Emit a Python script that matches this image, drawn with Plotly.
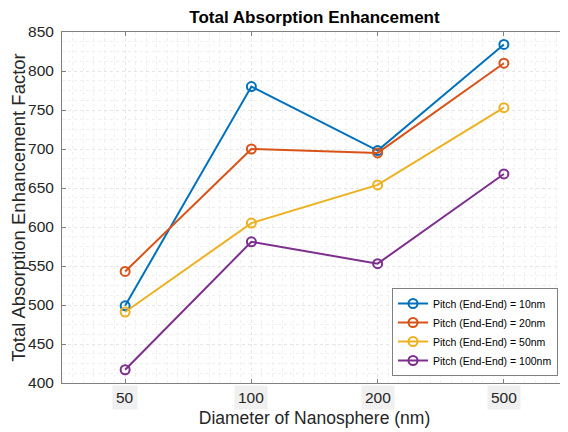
import plotly.graph_objects as go

categories = ["50", "100", "200", "500"]
tick_labels = ["50", "100", "200", "500"]
series_names = ["Pitch (End-End) = 10nm", "Pitch (End-End) = 20nm",
                "Pitch (End-End) = 50nm", "Pitch (End-End) = 100nm"]
pitch_10 = [499, 780, 698, 834]
pitch_20 = [543, 700, 695, 810]
pitch_50 = [491, 605, 654, 753]
pitch_100 = [417, 581, 553, 668]
colors = ["#0072BD", "#D95319", "#EDB120", "#7E2F8E"]

# page body has an 8px default margin, so the figure is drawn 8px smaller
W, H = 560, 424
L, R, T, B = 54, 1, 24, 49
pw, ph = W - L - R, H - T - B

fig = go.Figure()
for name, vals, c in zip(series_names, [pitch_10, pitch_20, pitch_50, pitch_100], colors):
    fig.add_trace(go.Scatter(
        x=list(range(len(categories))), y=vals, name=name, mode="lines+markers",
        line=dict(color=c, width=2),
        marker=dict(symbol="circle-open", size=9, color=c, line=dict(width=2, color=c)),
    ))

for i, lab in enumerate(tick_labels):
    fig.add_annotation(x=i, y=0, xref="x", yref="paper", text=lab, showarrow=False,
                       yanchor="top", yshift=-2, bgcolor="#f0f0f0", borderpad=3,
                       font=dict(family="Arial", size=15.5, color="#262626"))

axis_common = dict(showline=True, linecolor="#808080", linewidth=1, mirror="ticks",
                   ticks="inside", ticklen=4, tickcolor="#808080",
                   showgrid=True, gridcolor="#e6e6e6", griddash="dot", gridwidth=1,
                   zeroline=False)

fig.update_layout(
    width=W, height=H,
    margin=dict(l=L, r=R, t=T, b=B),
    paper_bgcolor="white", plot_bgcolor="white",
    font=dict(family="Arial", color="#262626"),
    title=dict(text="<b>Total Absorption Enhancement</b>", x=(L + pw / 2) / W, xanchor="center",
               y=1 - 9 / H, yanchor="middle", font=dict(family="Arial", size=17, color="black")),
    xaxis=dict(range=[-0.5, 3.5], tickvals=list(range(len(categories))), showticklabels=False,
               title=dict(text="Diameter of Nanosphere (nm)", standoff=28,
                          font=dict(family="Arial", size=17.5, color="#262626")),
               minor=dict(dtick=1 / 12, tick0=0, showgrid=True, gridcolor="#f0f0f0", griddash="dot"),
               **axis_common),
    yaxis=dict(range=[400, 850], dtick=50, tickfont=dict(family="Arial", size=15.5, color="#262626"),
               ticklabelstandoff=4,
               title=dict(text="Total Absorption Enhancement Factor", standoff=1,
                          font=dict(family="Arial", size=18.5, color="#262626")),
               minor=dict(dtick=12.5, showgrid=True, gridcolor="#f0f0f0", griddash="dot"),
               **axis_common),
    legend=dict(x=(558 - 62) / 505, y=(383 - 376) / 351, xanchor="right", yanchor="bottom",
                bgcolor="white", bordercolor="#808080", borderwidth=1,
                font=dict(family="Arial", size=10.5, color="black"), tracegroupgap=0,
                itemwidth=30),
    showlegend=True,
)
fig.write_html("out.html")
